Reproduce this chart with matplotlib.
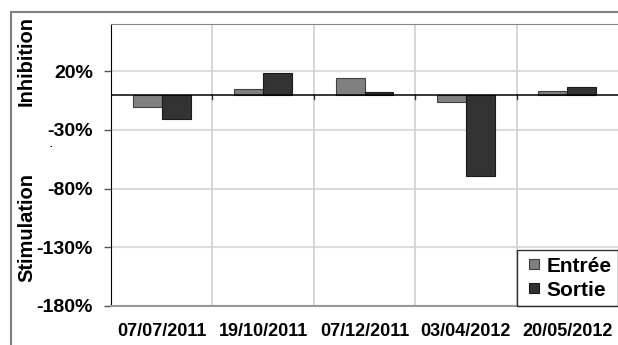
import matplotlib.pyplot as plt
import numpy as np
from matplotlib.patches import Rectangle
from matplotlib.lines import Line2D

plt.rcParams['font.family'] = ['Liberation Sans', 'DejaVu Sans']
plt.rcParams['font.weight'] = 'bold'

# sampling dates and removal rates (%)
dates = ['07/07/2011', '19/10/2011', '07/12/2011', '03/04/2012', '20/05/2012']
entree = [-11, 5, 14, -6, 3]
sortie = [-21, 18.5, 2.3, -69, 6.5]
yticks = [20, -30, -80, -130, -180]

fig = plt.figure(figsize=(6.18, 3.45), dpi=100)
ax = fig.add_axes([111/618, 1 - 306/345, 1 - 111/618, (306 - 24)/345])

x = np.arange(len(dates))
w = 0.285
ax.bar(x - w/2, entree, w, color='#808080', edgecolor='#404040', linewidth=0.8, zorder=3)
ax.bar(x + w/2, sortie, w, color='#333333', edgecolor='#1a1a1a', linewidth=0.8, zorder=3)

ax.set_xlim(-0.5, len(dates) - 0.5)
ax.set_ylim(-180, 60)
ax.set_yticks(yticks)
ax.set_yticklabels([f'{v}%' for v in yticks], fontsize=14, fontweight='bold')
ax.set_xticks(x)
ax.set_xticklabels(dates, fontsize=13, fontweight='bold')
ax.tick_params(axis='x', length=0, pad=12)
ax.tick_params(axis='y', length=5, width=1, pad=8, color='#555555')

# grid: horizontal at ticks, vertical between categories
for v in yticks:
    ax.axhline(v, color='#dcdcdc', lw=1.5, zorder=1)
for b in x[:-1] + 0.5:
    ax.axvline(b, color='#d0d0d0', lw=1.2, zorder=1)
    ax.plot([b, b], [0, -4], color='#333333', lw=1, zorder=4)
ax.axhline(0, color='black', lw=1.1, zorder=4)

ax.spines['left'].set_color('black')
ax.spines['top'].set_color('#888888')
ax.spines['bottom'].set_color('#999999')
ax.spines['bottom'].set_linewidth(1.5)
ax.spines['right'].set_visible(False)

handles = [Line2D([], [], ls='none', marker='s', markersize=6.5, markerfacecolor='#808080',
                  markeredgecolor='#404040', markeredgewidth=0.8),
           Line2D([], [], ls='none', marker='s', markersize=6.5, markerfacecolor='#333333',
                  markeredgecolor='#1a1a1a', markeredgewidth=0.8)]
leg = ax.legend(handles, ['Entrée', 'Sortie'], loc='lower right', frameon=True, fancybox=False,
                borderpad=0.3, handlelength=1.0, handletextpad=0.1,
                labelspacing=0.25, borderaxespad=0, prop={'weight': 'bold', 'size': 15})
leg.get_frame().set_edgecolor('black')
leg.get_frame().set_linewidth(1)
leg.set_zorder(5)

fig.text(26/618, 1 - 61/345, 'Inhibition', rotation=90, ha='center', va='center',
         fontsize=14.5, fontweight='bold')
fig.text(27/618, 1 - 227/345, 'Stimulation', rotation=90, ha='center', va='center',
         fontsize=14.5, fontweight='bold')
fig.text(51/618, 1 - 147/345, '.', ha='center', va='baseline', fontsize=7, fontweight='bold')

# outer chart frame
fig.add_artist(Rectangle((11/618, -0.05), 1.0, 1 - 12/345 + 0.05, transform=fig.transFigure,
                         fill=False, edgecolor='#808080', lw=1.5))

fig.savefig('out.png', dpi=100)
